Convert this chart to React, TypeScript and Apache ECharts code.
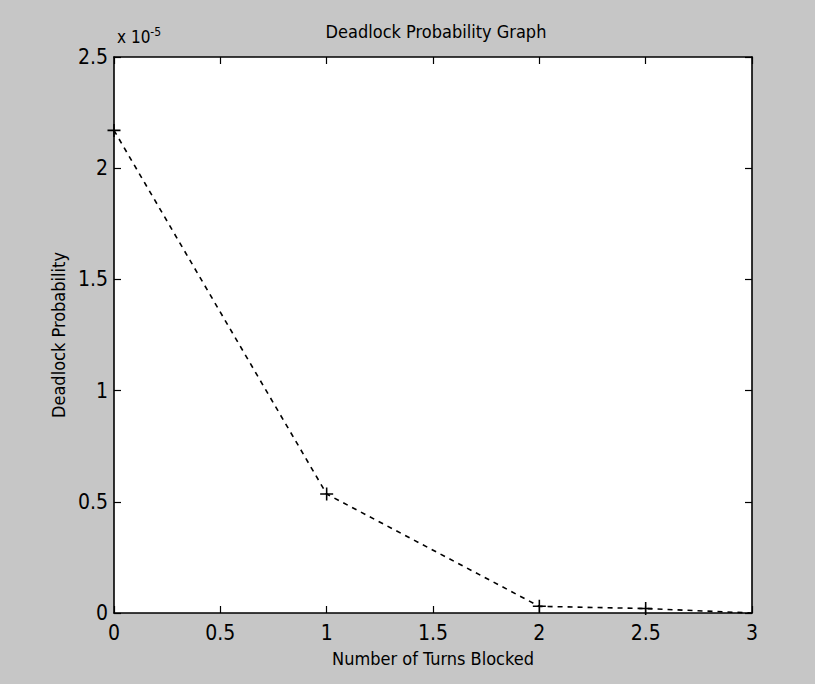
import React, { useEffect, useRef } from "react";
import * as echarts from "echarts";

const xValues = [0, 1, 2, 2.5, 3];
const yValues = [2.17, 0.535, 0.03, 0.02, 0.0];
const xTicks = ["0", "0.5", "1", "1.5", "2", "2.5", "3"];
const yTicks = ["0", "0.5", "1", "1.5", "2", "2.5"];
const titleText = "Deadlock Probability Graph";
const xName = "Number of Turns Blocked";
const yName = "Deadlock Probability";

const FONT = "'Liberation Sans Narrow', 'DejaVu Sans Condensed', 'Liberation Sans', Arial, sans-serif";
const PLUS = "path://M4.4,0H5.6V4.4H10V5.6H5.6V10H4.4V5.6H0V4.4H4.4Z";

export default function App() {
  const ref = useRef<HTMLDivElement>(null);
  useEffect(() => {
    if (!ref.current) return;
    const chart = echarts.init(ref.current, null, { renderer: "svg" });
    const axisCommon = {
      type: "value" as const,
      interval: 0.5,
      axisLine: { show: true, onZero: false, lineStyle: { color: "#000", width: 1.6 } },
      axisTick: { show: true, inside: true, length: 7, lineStyle: { color: "#000", width: 1.2 } },
      splitLine: { show: false },
    };
    chart.setOption({
      animation: false,
      backgroundColor: "#c6c6c6",
      title: {
        text: titleText,
        left: 431,
        textAlign: "center",
        top: 17,
        textStyle: { fontFamily: FONT, fontSize: 18, fontWeight: "normal", color: "#000" },
      },
      grid: {
        left: 114,
        right: 63,
        top: 57,
        bottom: 71,
        show: true,
        backgroundColor: "#ffffff",
        borderWidth: 0,
      },
      xAxis: [
        {
          ...axisCommon,
          min: 0,
          max: 3,
          position: "bottom",
          name: xName,
          nameLocation: "middle",
          nameGap: 36,
          nameTextStyle: { fontFamily: FONT, fontSize: 18, color: "#000" },
          axisLabel: {
            margin: 9,
            fontFamily: FONT,
            fontSize: 21,
            color: "#000",
            formatter: (v: number) => xTicks[Math.round(v / 0.5)] ?? "",
          },
        },
        {
          ...axisCommon,
          min: 0,
          max: 3,
          position: "top",
          axisLabel: { show: false },
        },
      ],
      yAxis: [
        {
          ...axisCommon,
          min: 0,
          max: 2.5,
          position: "left",
          name: yName,
          nameLocation: "middle",
          nameGap: 47,
          nameRotate: 90,
          nameTextStyle: { fontFamily: FONT, fontSize: 18, color: "#000" },
          axisLabel: {
            margin: 6,
            fontFamily: FONT,
            fontSize: 21,
            color: "#000",
            formatter: (v: number) => yTicks[Math.round(v / 0.5)] ?? "",
          },
        },
        {
          ...axisCommon,
          min: 0,
          max: 2.5,
          position: "right",
          axisLabel: { show: false },
        },
      ],
      graphic: [
        {
          type: "text",
          left: 117,
          top: 26,
          style: {
            text: "x 10{s|-5}",
            fontFamily: FONT,
            fontSize: 17,
            fill: "#000",
            rich: { s: { fontFamily: FONT, fontSize: 12, verticalAlign: "top", padding: [0, 0, 10, 0] } },
          },
        },
      ],
      series: [
        {
          type: "line",
          data: xValues.map((x, i) => [x, yValues[i]]),
          lineStyle: { color: "#000", width: 1.6, type: [5, 5] },
          symbol: (v: number[]) => (v[0] === 3 ? "none" : PLUS),
          symbolSize: 13,
          itemStyle: { color: "#000" },
          clip: false,
        },
      ],
    });
    return () => chart.dispose();
  }, []);
  return <div ref={ref} style={{ position: "absolute", left: 0, top: 0, width: 815, height: 684 }} />;
}
